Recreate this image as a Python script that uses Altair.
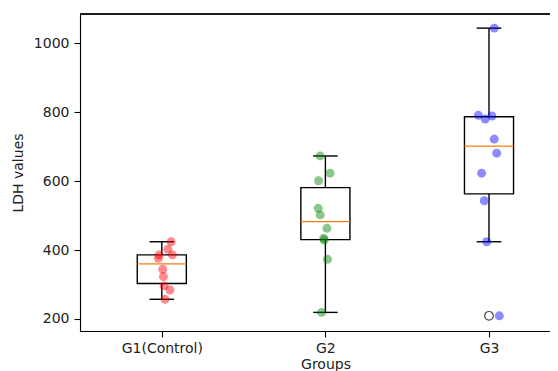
import altair as alt
import numpy as np
import pandas as pd

groups = ["G1(Control)", "G2", "G3"]
positions = [1, 2, 3]
colors = ["red", "green", "blue"]

g1_values = [424, 402, 386, 386, 376, 344, 323, 296, 284, 257]
g2_values = [673, 623, 601, 521, 502, 463, 434, 429, 373, 219]
g3_values = [1044, 791, 780, 789, 722, 681, 623, 543, 424, 209]

# horizontal jitter of each point (in group units)
g1_jitter = [0.057, 0.037, 0.065, -0.017, -0.021, 0.006, 0.010, 0.014, 0.050, 0.020]
g2_jitter = [-0.032, 0.029, -0.042, -0.044, -0.032, 0.009, -0.011, -0.007, 0.013, -0.023]
g3_jitter = [0.032, -0.065, -0.023, 0.018, 0.032, 0.047, -0.045, -0.029, -0.014, 0.063]

y_ticks = [200, 400, 600, 800, 1000]

values = [g1_values, g2_values, g3_values]
jitters = [g1_jitter, g2_jitter, g3_jitter]

pts_rows, box_rows, flier_rows = [], [], []
for g, pos, col, vals, jit in zip(groups, positions, colors, values, jitters):
    for v, j in zip(vals, jit):
        pts_rows.append({"group": g, "x": pos + j, "y": v, "color": col})
    arr = np.array(vals, dtype=float)
    q1, med, q3 = np.percentile(arr, [25, 50, 75])
    iqr = q3 - q1
    lo_f, hi_f = q1 - 1.5 * iqr, q3 + 1.5 * iqr
    inside = arr[(arr >= lo_f) & (arr <= hi_f)]
    wlo, whi = inside.min(), inside.max()
    box_rows.append({"group": g, "pos": pos, "x0": pos - 0.15, "x1": pos + 0.15,
                     "c0": pos - 0.075, "c1": pos + 0.075,
                     "q1": q1, "med": med, "q3": q3, "wlo": wlo, "whi": whi})
    for v in arr[(arr < lo_f) | (arr > hi_f)]:
        flier_rows.append({"group": g, "x": pos, "y": v})

pts = pd.DataFrame(pts_rows)
box = pd.DataFrame(box_rows)
fliers = pd.DataFrame(flier_rows)

W, H = 470, 317
unit = 163.6
xdom = [0.5, 0.5 + W / unit]
ydom = [165, 1085]

label_expr = "datum.value == 1 ? 'G1(Control)' : datum.value == 2 ? 'G2' : datum.value == 3 ? 'G3' : ''"

xscale = alt.Scale(domain=xdom, nice=False, zero=False)
yscale = alt.Scale(domain=ydom, nice=False, zero=False)

FS = 14
xaxis = alt.Axis(values=positions, labelExpr=label_expr, title="Groups", grid=False,
                 domainColor="black", tickColor="black", tickSize=6, domainWidth=1.1,
                 tickWidth=1.1, labelPadding=4, labelFontSize=FS, titleFontSize=FS,
                 labelColor="#222", titleColor="#222", labelFont="DejaVu Sans",
                 titleFont="DejaVu Sans", titleFontWeight="normal",
                 titleX=245.5, titleY=33, titleBaseline="middle", titleAlign="center")
yaxis = alt.Axis(values=y_ticks, format="d", title="LDH values", grid=False,
                 domainColor="black", tickColor="black", tickSize=6, domainWidth=1.1,
                 tickWidth=1.1, labelPadding=5, labelFontSize=FS, titleFontSize=FS,
                 labelColor="#222", titleColor="#222", labelFont="DejaVu Sans",
                 titleFont="DejaVu Sans", titleFontWeight="normal",
                 titleX=-62, titleY=158.5, titleAngle=-90, titleBaseline="middle",
                 titleAlign="center")

base_box = alt.Chart(box)

rect = base_box.mark_rect(filled=False, stroke="black", strokeWidth=1.4).encode(
    x=alt.X("x0:Q", scale=xscale, axis=xaxis),
    x2="x1:Q",
    y=alt.Y("q1:Q", scale=yscale, axis=yaxis),
    y2="q3:Q",
)
wh_lo = base_box.mark_rule(color="black", strokeWidth=1.4).encode(
    x=alt.X("pos:Q", scale=xscale), y=alt.Y("wlo:Q", scale=yscale), y2="q1:Q")
wh_hi = base_box.mark_rule(color="black", strokeWidth=1.4).encode(
    x=alt.X("pos:Q", scale=xscale), y=alt.Y("q3:Q", scale=yscale), y2="whi:Q")
cap_lo = base_box.mark_rule(color="black", strokeWidth=1.4).encode(
    x=alt.X("c0:Q", scale=xscale), x2="c1:Q", y=alt.Y("wlo:Q", scale=yscale))
cap_hi = base_box.mark_rule(color="black", strokeWidth=1.4).encode(
    x=alt.X("c0:Q", scale=xscale), x2="c1:Q", y=alt.Y("whi:Q", scale=yscale))
median = base_box.mark_rule(color="#ff7f0e", strokeWidth=1.3).encode(
    x=alt.X("x0:Q", scale=xscale), x2="x1:Q", y=alt.Y("med:Q", scale=yscale))

flier = alt.Chart(fliers).mark_point(shape="circle", filled=False, color="black",
                                     strokeWidth=1.2, size=75).encode(
    x=alt.X("x:Q", scale=xscale), y=alt.Y("y:Q", scale=yscale))

scatter = alt.Chart(pts).mark_circle(size=80, opacity=0.45).encode(
    x=alt.X("x:Q", scale=xscale),
    y=alt.Y("y:Q", scale=yscale),
    color=alt.Color("color:N", scale=None, legend=None),
)

top = alt.Chart(box).mark_rule(color="black", strokeWidth=1.1).encode(
    x=alt.value(0), x2=alt.value(W), y=alt.value(0))

chart = alt.layer(rect, wh_lo, wh_hi, cap_lo, cap_hi, median, flier, scatter, top).properties(
    width=W, height=H,
    autosize=alt.AutoSizeParams(type="none"),
    padding={"left": 72, "top": 6, "right": 0, "bottom": 40},
).configure_view(stroke=None).configure(background="white")

chart.save("out.html", embed_options={"renderer": "svg", "actions": False})
